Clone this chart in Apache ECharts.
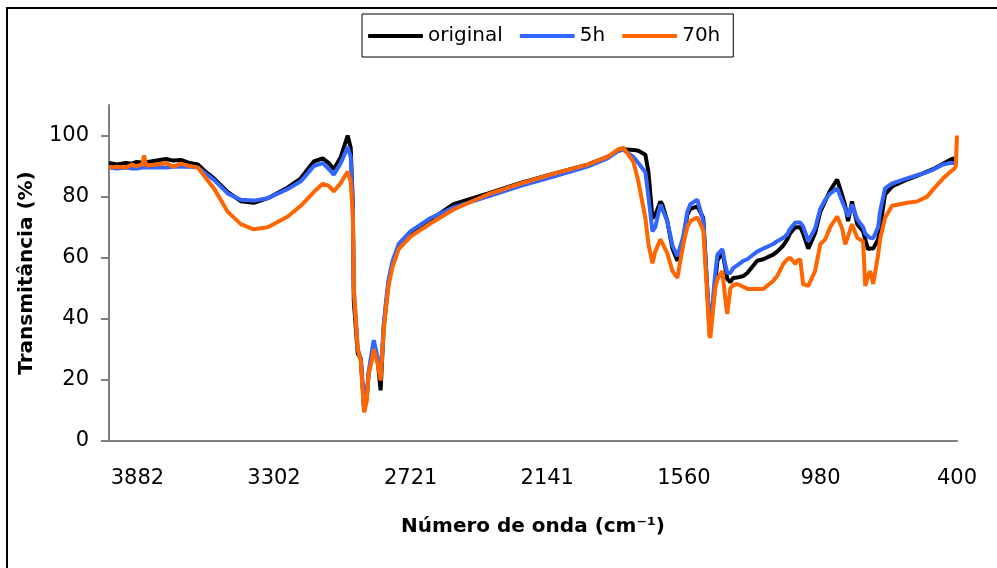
<!DOCTYPE html>
<html>
<head>
<meta charset="utf-8">
<script src="https://cdn.jsdelivr.net/npm/echarts@6/dist/echarts.min.js"></script>
<style>
  html, body { margin: 0; padding: 0; background: #fff; }
  #chart { width: 997px; height: 568px; }
</style>
</head>
<body>
<div id="chart"></div>
<script>
// wavenumber (cm-1)
var waveNumbers = [4003, 3970, 3931, 3905, 3888, 3862, 3854, 3845, 3800, 3761, 3730, 3697, 3660, 3625, 3591, 3557, 3498, 3443, 3388, 3328, 3243, 3188, 3133, 3095, 3069, 3048, 3018, 2989, 2976, 2967, 2963, 2946, 2933, 2925, 2919, 2908, 2900, 2887, 2878, 2861, 2849, 2836, 2827, 2815, 2798, 2772, 2721, 2636, 2539, 2395, 2254, 2114, 1970, 1885, 1839, 1817, 1775, 1754, 1724, 1711, 1694, 1682, 1660, 1652, 1631, 1609, 1588, 1563, 1546, 1533, 1503, 1478, 1465, 1452, 1448, 1427, 1418, 1397, 1385, 1376, 1363, 1351, 1334, 1308, 1291, 1249, 1223, 1181, 1164, 1138, 1121, 1109, 1087, 1079, 1066, 1054, 1032, 1003, 981, 960, 939, 909, 888, 875, 863, 846, 824, 799, 790, 778, 769, 756, 735, 727, 706, 676, 612, 570, 527, 502, 459, 430, 413, 405, 400];

var original = [91, 90.5, 91, 90.8, 91.3, 91.2, 91.5, 91.3, 91.8, 92.3, 91.8, 92, 91, 90.5, 88, 86, 81.5, 78.5, 78, 79.5, 83, 86, 91.5, 92.5, 91, 89, 93, 100, 96, 77.5, 46, 28.6, 27, 17.6, 10, 14, 22, 27, 32, 26, 16.6, 37, 43.6, 52, 58, 64, 68, 72.5, 77.5, 81, 84.5, 87.5, 90.5, 93, 95, 95.5, 95.3, 95, 93.7, 88, 73, 74, 78.4, 77.5, 72, 63, 59, 66, 74, 76, 76.8, 73, 55, 38, 37, 52, 59, 62, 57, 53, 52, 53.4, 53.5, 54, 55, 59, 59.5, 61, 62, 64, 66, 68, 70, 70.3, 70, 68, 63, 68, 75, 78.5, 82, 85.6, 80.5, 77, 72, 78.4, 71, 68.7, 66, 62.8, 63, 63, 66, 69.6, 80.7, 83.3, 85.6, 86.8, 88.2, 89, 90.8, 92, 92.5, 92, 92];

var h5 = [89.5, 89.2, 89.5, 89.2, 89.2, 89.5, 89.3, 89.5, 89.6, 89.5, 89.8, 89.8, 89.8, 89.5, 87.5, 85.5, 81, 79, 78.7, 79.5, 82.5, 85, 90, 91, 89, 87.2, 91, 96.3, 93, 76, 50, 30, 27, 18, 10.5, 15, 22.5, 29, 33, 27, 21, 38, 45, 53, 59, 64.5, 68.7, 73, 76.5, 80, 83.5, 86.6, 89.8, 92.5, 95, 95.3, 93, 91, 88, 80, 68.6, 70, 77.4, 77, 72, 64, 60.5, 67, 75, 77.5, 79, 72, 55, 38.4, 37, 55, 61, 62.8, 58, 55, 55, 56.6, 57.5, 59, 59.5, 62, 63, 64.5, 65.4, 66.5, 67.7, 69.5, 71.5, 72, 71.5, 70.3, 65.4, 69.6, 76, 79, 81, 82.7, 78.5, 76, 73.5, 77.4, 72.6, 70, 68, 67, 66.5, 66.4, 70, 75, 82.7, 84.3, 86, 87, 88, 88.8, 90.5, 91, 91, 91, 91.5];

var h70 = [89.5, 89.8, 89.5, 90.5, 90, 90.5, 93.5, 90.2, 90.5, 91, 89.8, 90.8, 90, 89.5, 86, 82.7, 75, 71, 69.3, 70, 73.5, 77, 81.5, 84.2, 83.5, 81.7, 84.5, 88.2, 85, 74, 50, 30, 26, 16, 9.4, 13, 22, 26, 30, 25, 19.8, 36, 43, 51, 57, 62.8, 67, 71.3, 75.8, 80.7, 84.3, 87.5, 90.5, 93, 95.5, 96, 91.4, 85, 73, 64.4, 58.2, 62, 66, 66.4, 61.5, 55.6, 53.4, 64.4, 70, 72, 73.2, 69, 52.4, 34.5, 33.8, 50, 53, 55.6, 47, 41.6, 50, 51, 51.4, 50.5, 49.8, 49.8, 49.8, 52.4, 54, 58, 59.5, 60, 58, 59, 59.5, 51.4, 50.8, 55.6, 64.4, 66, 70, 73.5, 69.6, 64.4, 67, 71, 66.5, 65.4, 50.8, 54, 55.6, 51.4, 61, 66, 73, 77, 78, 78.4, 80, 82.3, 86, 88, 89, 90, 100];

var seriesNames = ['original', '5h', '70h'];
var seriesColors = ['#000000', '#3366ff', '#ff6600'];
var xTicks = [3882, 3302, 2721, 2141, 1560, 980, 400];
var yTicks = [0, 20, 40, 60, 80, 100];

function pairs(vals) {
  var out = [];
  for (var i = 0; i < waveNumbers.length; i++) {
    out.push([waveNumbers[i], vals[i]]);
  }
  return out;
}

var chart = echarts.init(document.getElementById('chart'));
var font = 'DejaVu Sans';

var allData = [original, h5, h70];
var series = [];
for (var k = 0; k < allData.length; k++) {
  series.push({
    name: seriesNames[k],
    type: 'line',
    showSymbol: false,
    symbol: 'none',
    lineStyle: { color: seriesColors[k], width: 4 },
    itemStyle: { color: seriesColors[k] },
    data: pairs(allData[k])
  });
}

var option = {
  animation: false,
  backgroundColor: '#fff',
  graphic: [{
    type: 'rect',
    shape: { x: 7, y: 8, width: 1100, height: 700 },
    style: { fill: 'none', stroke: '#000', lineWidth: 2 },
    silent: true
  }],
  legend: {
    left: 362,
    top: 14,
    orient: 'horizontal',
    borderColor: '#000',
    borderWidth: 1,
    backgroundColor: '#fff',
    padding: [12, 13, 11, 6],
    icon: 'roundRect',
    itemWidth: 55,
    itemHeight: 4,
    itemGap: 17,
    textStyle: { fontFamily: font, fontSize: 20, color: '#000' },
    data: seriesNames
  },
  grid: {
    left: 109,
    right: 40,
    top: 105,
    bottom: 127,
    containLabel: false
  },
  xAxis: {
    type: 'value',
    inverse: true,
    min: 400,
    max: 4003,
    name: 'Número de onda (cm⁻¹)',
    nameLocation: 'middle',
    nameGap: 76,
    nameTextStyle: { fontFamily: font, fontSize: 20, fontWeight: 'bold', color: '#000' },
    axisLine: { lineStyle: { color: '#808080', width: 2 } },
    axisTick: { show: false },
    splitLine: { show: false },
    axisLabel: {
      customValues: xTicks,
      margin: 27,
      fontFamily: font,
      fontSize: 21,
      color: '#000',
      formatter: function (v) { return String(v); }
    }
  },
  yAxis: {
    type: 'value',
    min: 0,
    max: 110,
    name: 'Transmitância (%)',
    nameLocation: 'middle',
    nameGap: 72,
    nameTextStyle: { fontFamily: font, fontSize: 20, fontWeight: 'bold', color: '#000' },
    axisLine: { show: true, lineStyle: { color: '#808080', width: 2 } },
    axisTick: { show: true, customValues: yTicks, length: 8, lineStyle: { color: '#808080', width: 2 } },
    splitLine: { show: false },
    axisLabel: {
      customValues: yTicks,
      margin: 20,
      fontFamily: font,
      fontSize: 21,
      color: '#000'
    }
  },
  series: series
};

chart.setOption(option);
</script>
</body>
</html>
